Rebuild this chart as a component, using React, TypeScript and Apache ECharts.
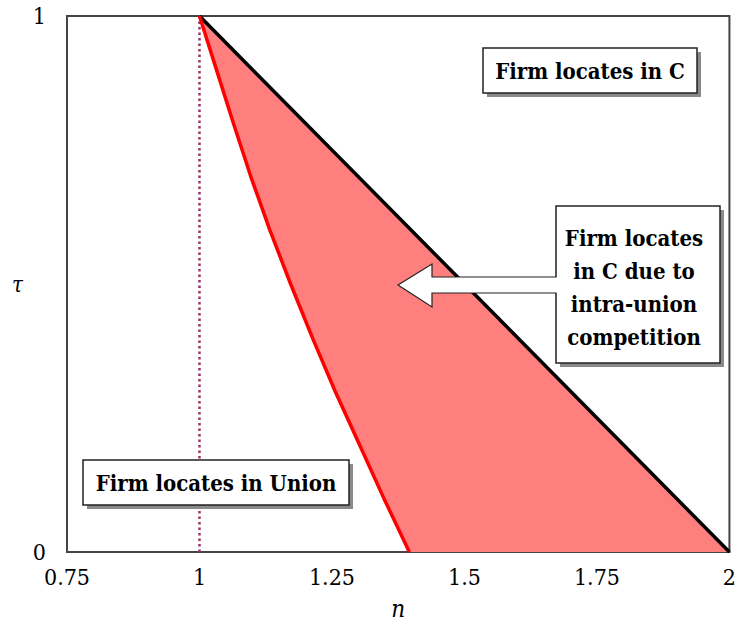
import React, { useEffect, useRef } from "react";
import * as echarts from "echarts";

// Red boundary curve (tau as a function of n)
const redCurveN = [1.0, 1.032, 1.064, 1.097, 1.133, 1.172, 1.213, 1.256, 1.302, 1.348, 1.396];
const redCurveTau = [1.0, 0.9, 0.8, 0.7, 0.6, 0.5, 0.4, 0.3, 0.2, 0.1, 0.0];

// Black boundary line
const blackLineN = [1, 2];
const blackLineTau = [1, 0];

// Dotted vertical line at n = 1
const dottedN = [1, 1];
const dottedTau = [0, 1];

// Axis ticks
const xTicks = [0.75, 1, 1.25, 1.5, 1.75, 2];
const yTicks = [0, 1];

// Annotation texts
const labelC = "Firm locates in C";
const labelUnion = "Firm locates in Union";
const labelMiddle = ["Firm locates", "in C due to", "intra-union", "competition"];

const SERIF = "DejaVu Serif Condensed";

export default function App() {
  const ref = useRef<HTMLDivElement>(null);

  useEffect(() => {
    if (!ref.current) return;
    const chart = echarts.init(ref.current, undefined, { renderer: "svg" });

    const zip = (xs: number[], ys: number[]) => xs.map((x, i) => [x, ys[i]]);

    // polygon vertices: down the red curve, then back up the black line
    const fillPoly = [
      ...zip(redCurveN, redCurveTau),
      ...zip(blackLineN, blackLineTau).reverse(),
    ];

    const box = (x: number, y: number, w: number, h: number) => [
      {
        type: "rect",
        shape: { x: x + 4, y: y + 4, width: w, height: h },
        style: { fill: "#8a8a8a" },
        z: 100,
      },
      {
        type: "rect",
        shape: { x, y, width: w, height: h },
        style: { fill: "#ffffff", stroke: "#222222", lineWidth: 1.5 },
        z: 101,
      },
    ];

    const textStyle = (text: string) => ({
      text,
      fill: "#000000",
      fontFamily: SERIF,
      fontSize: 22,
      fontWeight: "bold",
      align: "center",
      verticalAlign: "middle",
    });

    const option: any = {
      animation: false,
      backgroundColor: "#ffffff",
      textStyle: { fontFamily: SERIF },
      grid: {
        left: 67,
        top: 16,
        right: 8,
        bottom: 73,
        show: true,
        borderColor: "#444444",
        borderWidth: 2,
        containLabel: false,
      },
      xAxis: {
        type: "value",
        min: xTicks[0],
        max: xTicks[xTicks.length - 1],
        interval: 0.25,
        name: "n",
        nameLocation: "middle",
        nameGap: 45,
        nameTextStyle: { fontFamily: SERIF, fontSize: 24, fontStyle: "italic", color: "#000" },
        axisLine: { show: true, lineStyle: { color: "#444444", width: 2 } },
        axisTick: { show: false },
        splitLine: { show: false },
        axisLabel: {
          fontFamily: SERIF,
          fontSize: 23,
          color: "#000",
          margin: 13,
          formatter: (v: number) => String(v),
        },
      },
      yAxis: {
        type: "value",
        min: yTicks[0],
        max: yTicks[yTicks.length - 1],
        interval: 1,
        name: "τ",
        nameLocation: "middle",
        nameRotate: 0,
        nameGap: 44,
        nameTextStyle: { fontFamily: SERIF, fontSize: 22, fontStyle: "italic", color: "#000", padding: [6, 0, 0, 0] },
        axisLine: { show: true, lineStyle: { color: "#444444", width: 2 } },
        axisTick: { show: false },
        splitLine: { show: false },
        axisLabel: {
          fontFamily: SERIF,
          fontSize: 23,
          color: "#000",
          margin: 21,
          padding: [10, 0, 0, 0],
        },
      },
      series: [
        {
          type: "custom",
          name: "region",
          coordinateSystem: "cartesian2d",
          data: [[0]],
          silent: true,
          z: 1,
          renderItem: (_params: any, api: any) => ({
            type: "polygon",
            shape: { points: fillPoly.map((p) => api.coord(p)) },
            style: { fill: "#ff7f7f", stroke: "none" },
          }),
        },
        {
          type: "line",
          name: "black",
          data: zip(blackLineN, blackLineTau),
          showSymbol: false,
          lineStyle: { color: "#000000", width: 3.5 },
          z: 3,
        },
        {
          type: "line",
          name: "red",
          data: zip(redCurveN, redCurveTau),
          showSymbol: false,
          lineStyle: { color: "#ff0000", width: 3.5 },
          z: 4,
        },
        {
          type: "line",
          name: "dotted",
          data: zip(dottedN, dottedTau),
          showSymbol: false,
          lineStyle: { color: "#993366", width: 2.5, type: [2.5, 3] },
          z: 2,
        },
      ],
      graphic: [
        ...box(483, 48, 214, 45),
        {
          type: "text",
          x: 590,
          y: 71,
          style: textStyle(labelC),
          z: 102,
        },
        ...box(83, 460, 266, 45),
        {
          type: "text",
          x: 216,
          y: 483,
          style: textStyle(labelUnion),
          z: 102,
        },
        ...box(556, 206, 164, 157),
        {
          type: "text",
          x: 634,
          y: 287,
          style: { ...textStyle(labelMiddle.join("\n")), lineHeight: 33 },
          z: 102,
        },
        {
          type: "polygon",
          shape: {
            points: [
              [398, 285],
              [432, 264],
              [432, 277],
              [557.5, 277],
              [557.5, 293],
              [432, 293],
              [432, 307],
            ],
          },
          style: { fill: "#ffffff", stroke: "none" },
          z: 103,
        },
        {
          type: "polyline",
          shape: {
            points: [
              [556.5, 277],
              [432, 277],
              [432, 264],
              [398, 285],
              [432, 307],
              [432, 293],
              [556.5, 293],
            ],
          },
          style: { stroke: "#222222", lineWidth: 1.2, fill: "none" },
          z: 104,
        },
      ],
    };

    chart.setOption(option);
    return () => chart.dispose();
  }, []);

  return (
    <div
      ref={ref}
      style={{ position: "fixed", left: 0, top: 0, width: 739, height: 626, background: "#fff" }}
    />
  );
}
